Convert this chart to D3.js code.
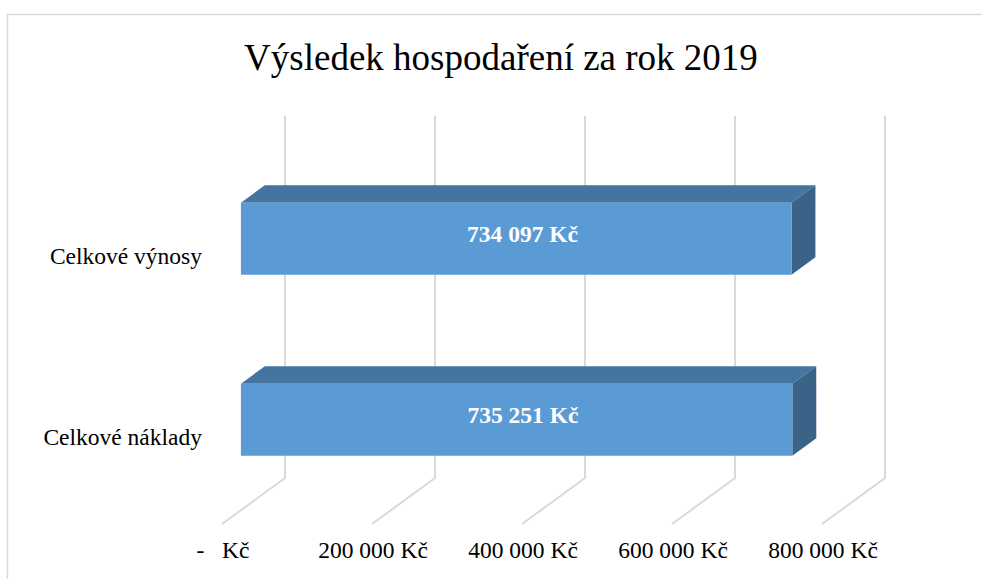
<!DOCTYPE html>
<html>
<head>
<meta charset="utf-8">
<script src="https://cdn.jsdelivr.net/npm/d3@7"></script>
<style>
	html, body { margin:0; padding:0; background:#fff; }
	svg { display:block; font-family:"Liberation Serif", "Times New Roman", serif; }
</style>
</head>
<body>
<div id="chart"></div>
<script>
'use strict';

// data
var categories = ["Celkové výnosy", "Celkové náklady"];
var values = [734097, 735251];
var tickValues = [0, 200000, 400000, 600000, 800000];

var W = 982, H = 579;

// 3d depth of the floor (front -> back wall)
var depth = { dx:63, dy:46 };
var barDepth = [0.3, 0.68];

var svg = d3.select("#chart").append("svg")
			.attr("width", W)
			.attr("height", H);

// chart border
svg.append("rect")
	.attr("x", 7.5).attr("y", 14.5)
	.attr("width", W + 20).attr("height", H + 20)
	.attr("fill", "none")
	.attr("stroke", "#d9d9d9")
	.attr("stroke-width", 1.5);

svg.append("text")
	.attr("x", 501).attr("y", 70)
	.attr("text-anchor", "middle")
	.style("font-size", "37px")
	.attr("fill", "#000")
	.text("Výsledek hospodaření za rok 2019");

// scales in the front plane
var x = d3.scaleLinear().domain([0, 800000]).range([222, 822]);
var y = d3.scaleBand().domain(categories).range([162, 524])
		  .paddingInner(0.602).paddingOuter(0.301);

function P(v, py, d) {
	return [x(v) + d * depth.dx, py - d * depth.dy];
}

var loc = d3.formatLocale({ decimal:",", thousands:" ", grouping:[3], currency:["", " Kč"] });
var fmt = loc.format("$,.0f");
function tickFmt(v) { return v === 0 ? "-   Kč" : fmt(v); }

// gridlines: back wall + floor
var wallTop = y.range()[0] - depth.dy, floorFront = y.range()[1];
var grid = svg.append("g").attr("class", "grid");
grid.selectAll("polyline")
	.data(tickValues)
	.join("polyline")
	.attr("points", function(v) {
		var a = P(v, wallTop, 1), b = P(v, floorFront, 1), c = P(v, floorFront, 0);
		return [[a[0], wallTop], b, c].join(" ");
	})
	.attr("fill", "none")
	.attr("stroke", "#d9d9d9")
	.attr("stroke-width", 2);

svg.append("g").attr("class", "ticks")
	.selectAll("text")
	.data(tickValues)
	.join("text")
	.attr("x", function(v) { return x(v) + 1; })
	.attr("y", 558)
	.attr("text-anchor", "middle")
	.style("font-size", "23.5px")
	.style("white-space", "pre")
	.attr("xml:space", "preserve")
	.text(tickFmt);

// bars
var bars = svg.append("g").attr("class", "bars")
			  .selectAll("g")
			  .data(categories.map(function(c, i) { return { cat:c, value:values[i] }; }))
			  .join("g");

function poly(pts) { return pts.map(function(p) { return p.join(","); }).join(" "); }

bars.append("polygon")
	.attr("points", function(d) {
		var t = y(d.cat), d0 = barDepth[0], d1 = barDepth[1];
		return poly([P(0, t, d0), P(d.value, t, d0), P(d.value, t, d1), P(0, t, d1)]);
	})
	.attr("fill", "#44749f");

bars.append("polygon")
	.attr("points", function(d) {
		var t = y(d.cat), b = t + y.bandwidth(), d0 = barDepth[0], d1 = barDepth[1];
		return poly([P(d.value, t, d0), P(d.value, t, d1), P(d.value, b, d1), P(d.value, b, d0)]);
	})
	.attr("fill", "#3a6388");

bars.append("polygon")
	.attr("points", function(d) {
		var t = y(d.cat), b = t + y.bandwidth(), d0 = barDepth[0];
		return poly([P(0, t, d0), P(d.value, t, d0), P(d.value, b, d0), P(0, b, d0)]);
	})
	.attr("fill", "#5b9bd5");

bars.append("text")
	.attr("x", function(d) { return P(d.value / 2, 0, 0.4)[0]; })
	.attr("y", function(d) { return P(0, y(d.cat) + y.bandwidth() / 2, 0.4)[1]; })
	.attr("dy", "0.35em")
	.attr("text-anchor", "middle")
	.attr("fill", "#fff")
	.style("font-size", "23.5px")
	.style("font-weight", "bold")
	.text(function(d) { return fmt(d.value); });

// category labels
svg.append("g").attr("class", "cats")
	.selectAll("text")
	.data(categories)
	.join("text")
	.attr("x", 202)
	.attr("y", function(c) { return y(c) + y.bandwidth() / 2 + 3; })
	.attr("dy", "0.35em")
	.attr("text-anchor", "end")
	.style("font-size", "23.5px")
	.text(function(c) { return c; });
</script>
</body>
</html>
